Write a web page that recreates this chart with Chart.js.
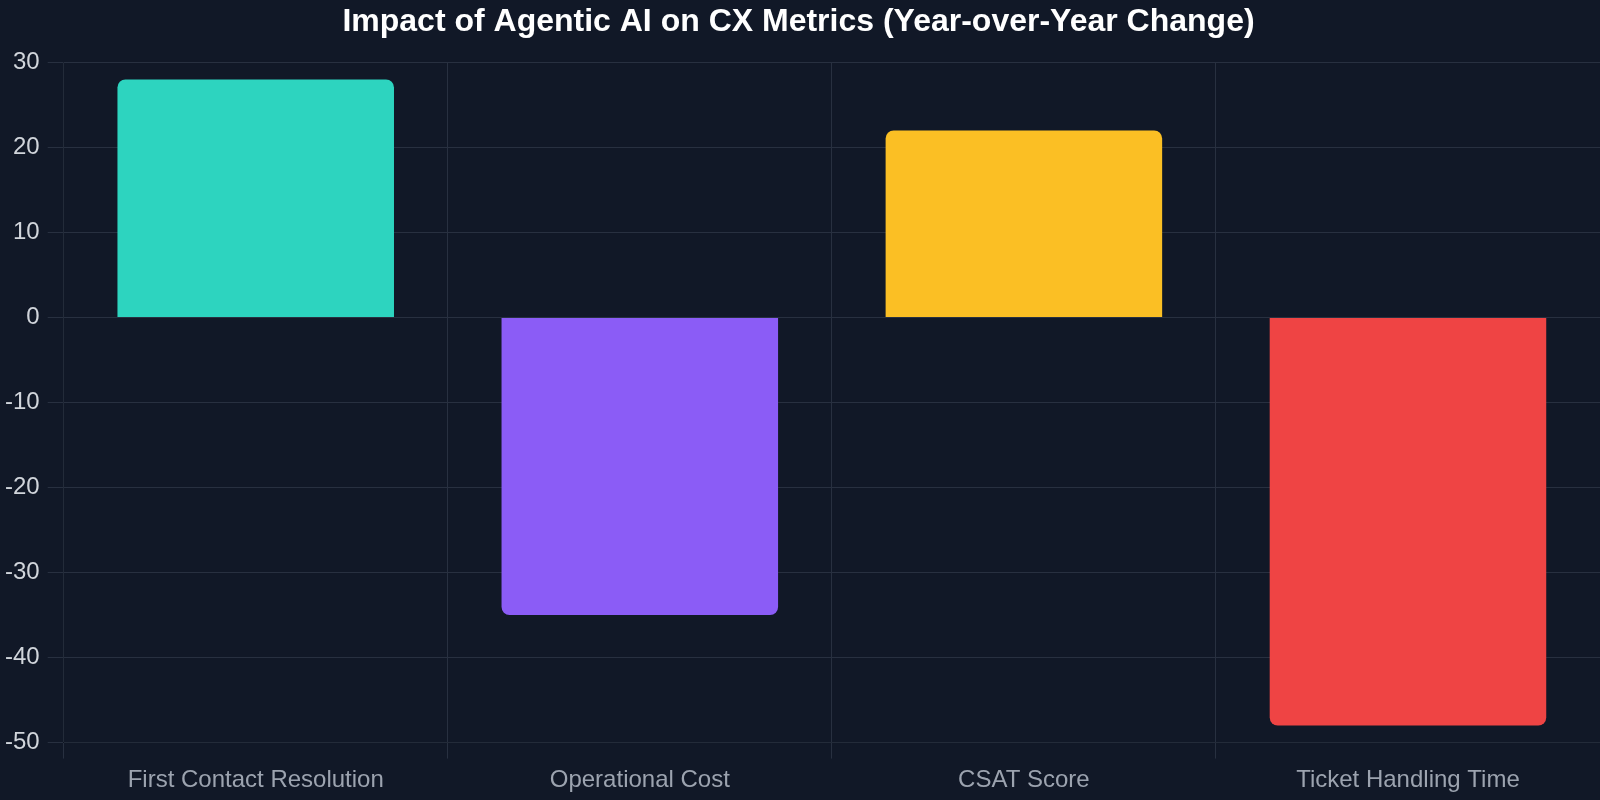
<!DOCTYPE html>
<html><head><meta charset="utf-8">
<script src="https://cdn.jsdelivr.net/npm/chart.js@4"></script>
<style>html,body{margin:0;padding:0;background:#111827;}#wrap{width:1600px;height:800px;}</style>
</head><body><div id="wrap"><canvas id="c"></canvas></div>
<script>
const categories = ["First Contact Resolution", "Operational Cost", "CSAT Score", "Ticket Handling Time"];
const changeValues = [28, -35, 22, -48];
const barColors = ["#2dd4bf", "#8b5cf6", "#fbbf24", "#ef4444"];
const chartTitle = "Impact of Agentic AI on CX Metrics (Year-over-Year Change)";

Chart.defaults.font.family = "'Liberation Sans', Arial, sans-serif";
new Chart(document.getElementById('c'), {
  type: 'bar',
  data: { labels: categories, datasets: [{ data: changeValues, backgroundColor: barColors, borderRadius: 8, borderSkipped: 'start' }] },
  options: {
    responsive: true, maintainAspectRatio: false, animation: false,
    layout: { padding: { left: -3, top: 0, right: 0, bottom: -3 } },
    plugins: {
      legend: { display: false },
      title: { display: true, text: chartTitle, color: '#ffffff', font: { size: 32, weight: 'bold' }, padding: { top: 3, bottom: 21 } },
      tooltip: { enabled: false }
    },
    scales: {
      x: { grid: { color: '#283040', tickLength: 16 }, ticks: { color: '#9ca3af', font: { size: 24, lineHeight: 1.1 }, padding: 9 } },
      y: { min: -50, max: 30, grid: { color: '#283040', tickLength: 16 }, ticks: { stepSize: 10, color: '#d1d5db', font: { size: 24 }, padding: 8 } }
    }
  }
});
</script></body></html>
